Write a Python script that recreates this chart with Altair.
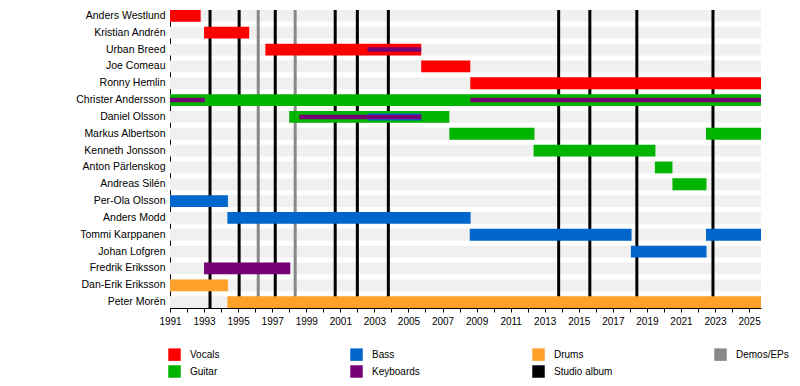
import altair as alt
import pandas as pd

START = 1991.0
END = 2025.7

members = ["Anders Westlund", "Kristian Andrén", "Urban Breed", "Joe Comeau",
           "Ronny Hemlin", "Christer Andersson", "Daniel Olsson", "Markus Albertson",
           "Kenneth Jonsson", "Anton Pärlenskog", "Andreas Silén", "Per-Ola Olsson",
           "Anders Modd", "Tommi Karppanen", "Johan Lofgren", "Fredrik Eriksson",
           "Dan-Erik Eriksson", "Peter Morén"]

# main roles
main_member = ["Anders Westlund", "Kristian Andrén", "Urban Breed", "Joe Comeau", "Ronny Hemlin",
               "Christer Andersson", "Daniel Olsson", "Markus Albertson", "Markus Albertson",
               "Kenneth Jonsson", "Anton Pärlenskog", "Andreas Silén", "Per-Ola Olsson",
               "Anders Modd", "Tommi Karppanen", "Tommi Karppanen", "Johan Lofgren",
               "Fredrik Eriksson", "Dan-Erik Eriksson", "Peter Morén"]
main_role = ["Vocals", "Vocals", "Vocals", "Vocals", "Vocals",
             "Guitar", "Guitar", "Guitar", "Guitar",
             "Guitar", "Guitar", "Guitar", "Bass",
             "Bass", "Bass", "Bass", "Bass",
             "Keyboards", "Drums", "Drums"]
main_start = [1991.0, 1993.0, 1996.6, 2005.75, 2008.63,
              1991.0, 1998.0, 2007.4, 2022.47,
              2012.35, 2019.47, 2020.5, 1991.0,
              1994.37, 2008.6, 2022.47, 2018.06,
              1993.0, 1991.0, 1994.37]
main_end = [1992.8, 1995.65, 2005.75, 2008.63, END,
            END, 2007.4, 2012.4, END,
            2019.5, 2020.5, 2022.5, 1994.4,
            2008.65, 2018.1, END, 2022.5,
            1998.06, 1994.4, END]

# secondary roles (thin bars)
kb_member = ["Urban Breed", "Christer Andersson", "Christer Andersson", "Daniel Olsson"]
kb_start = [2002.6, 1991.0, 2008.63, 1998.6]
kb_end = [2005.75, 1993.04, END, 2005.75]

bass2_member = ["Daniel Olsson"]
bass2_start = [2002.6]
bass2_end = [2005.75]

albums = [1993.35, 1995.06, 1997.18, 2000.7, 2002.0, 2003.82, 2013.82, 2015.65, 2018.41, 2022.88]
demos = [1996.18, 1998.35]

tick_years = list(range(1991, 2026))

legend_domain = ["Vocals", "Bass", "Drums", "Demos/EPs", "Guitar", "Keyboards", "Studio album"]
legend_range = ["#ff0000", "#0066cc", "#ffa02a", "#888888", "#00b400", "#760076", "#000000"]

FONT = "Liberation Sans"

main_df = pd.DataFrame({"member": main_member, "role": main_role, "start": main_start, "end": main_end})
kb_df = pd.DataFrame({"member": kb_member, "start": kb_start, "end": kb_end})
bass2_df = pd.DataFrame({"member": bass2_member, "start": bass2_start, "end": bass2_end})
bg_df = pd.DataFrame({"member": members, "start": [START] * len(members), "end": [END] * len(members)})
album_df = pd.DataFrame({"year": albums})
demo_df = pd.DataFrame({"year": demos})

xscale = alt.Scale(domain=[START, END], nice=False, zero=False)
yscale = alt.Scale(domain=members, paddingInner=0.3, paddingOuter=0)

xaxis = alt.Axis(title=None, values=tick_years, format="d",
                 labelExpr="datum.value % 2 == 1 ? datum.label : ''",
                 tickSize=4, tickColor="black", domainColor="black", grid=False,
                 labelFontSize=10, labelFont=FONT, labelColor="black",
                 labelFlush=False, labelOverlap=False, labelPadding=4)
yaxis = alt.Axis(title=None, ticks=False, labelFontSize=10.5, labelFont=FONT, labelColor="black",
                 domainColor="black", grid=False, labelPadding=5, minExtent=162, maxExtent=162)

X = lambda f: alt.X(f, scale=xscale, axis=xaxis)
Y = alt.Y("member:N", sort=members, scale=yscale, axis=yaxis)

bg = alt.Chart(bg_df).mark_bar(color="#f0f0f0").encode(
    y=Y, x=X("start:Q"), x2="end:Q",
)

album_rules = alt.Chart(album_df).mark_rule(color="black", strokeWidth=3).encode(x=X("year:Q"))
demo_rules = alt.Chart(demo_df).mark_rule(color="#888888", strokeWidth=3).encode(x=X("year:Q"))

bars = alt.Chart(main_df).mark_bar().encode(
    y=Y, x=X("start:Q"), x2="end:Q",
    color=alt.Color("role:N", scale=alt.Scale(domain=legend_domain, range=legend_range),
                    legend=alt.Legend(title=None, orient="none", legendX=-2, legendY=338,
                                      direction="horizontal", columns=4, gridAlign="all",
                                      columnPadding=101, rowPadding=4,
                                      symbolType="square", symbolSize=156, symbolStrokeWidth=0,
                                      labelFontSize=10, labelFont=FONT, labelColor="black",
                                      labelOffset=9, padding=0)),
)

bass2 = alt.Chart(bass2_df).mark_rule(color="#0066cc", strokeWidth=7).encode(
    y=Y, x=X("start:Q"), x2="end:Q",
)
kb = alt.Chart(kb_df).mark_rule(color="#760076", strokeWidth=4.5).encode(
    y=Y, x=X("start:Q"), x2="end:Q",
)

chart = alt.layer(bg, album_rules, demo_rules, bars, bass2, kb).properties(
    width=591, height=298, padding=0
).configure_view(stroke=None).configure_axisX(labelOverlap=False)

chart.save("out.html", embed_options={"renderer": "svg", "actions": False})
